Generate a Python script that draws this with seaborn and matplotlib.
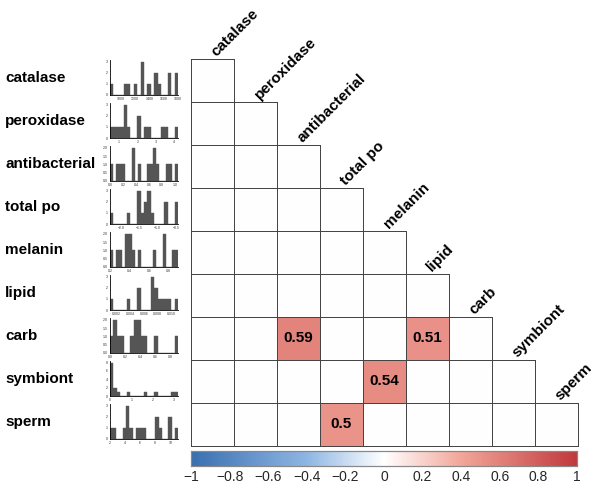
import numpy as np
import matplotlib
matplotlib.use("Agg")
import matplotlib.pyplot as plt
import seaborn as sns
from matplotlib.colors import LinearSegmentedColormap

sns.set_style("white")
plt.rcParams['font.family'] = ['Liberation Sans', 'DejaVu Sans']
plt.rcParams['text.color'] = 'black'

variables = ['catalase', 'peroxidase', 'antibacterial', 'total po', 'melanin',
             'lipid', 'carb', 'symbiont', 'sperm']

# significant correlations (row, column, r)
sig_rows = ['carb', 'carb', 'symbiont', 'sperm']
sig_cols = ['antibacterial', 'lipid', 'melanin', 'total po']
sig_r = [0.59, 0.51, 0.54, 0.5]

# histogram bin counts
hist_counts = {
    'catalase':      [1, 0, 0, 0, 1, 1, 0, 1, 0, 3, 0, 1, 0, 2, 1, 0, 0, 2, 0, 2],
    'peroxidase':    [1, 1, 1, 1, 3, 1, 0, 0, 2, 0, 1, 1, 0, 0, 0, 1, 1, 0, 0, 1],
    'antibacterial': [1, 0, 1, 1, 1, 0, 0, 2, 0, 1, 0, 0, 1, 1, 2, 1, 0, 0, 1, 1, 0, 1],
    'total po':      [1, 0, 0, 0, 0, 1, 0, 0, 3, 1, 2, 3, 1, 0, 0, 0, 2, 0, 0, 2],
    'melanin':       [1, 0, 1, 1, 0, 2, 2, 1, 0, 1, 0, 0, 0, 0, 1, 0, 0, 2, 0, 0, 1, 1],
    'lipid':         [1, 0, 0, 0, 0, 1, 0, 0, 2, 0, 0, 0, 3, 2, 1, 1, 1, 1, 0, 1],
    'carb':          [1, 2, 1, 1, 0, 0, 1, 2, 2, 1, 1, 0, 0, 1, 0, 0, 0, 0, 0, 1],
    'symbiont':      [8, 2, 1, 0, 0, 1, 0, 0, 0, 0, 1, 0, 0, 1, 0, 0, 0, 0, 1, 1],
    'sperm':         [1, 1, 0, 0, 1, 3, 1, 0, 1, 1, 1, 0, 0, 0, 2, 1, 0, 0, 2, 0, 1],
}
hist_range = {
    'catalase': (850, 1800), 'peroxidase': (0.5, 4.2), 'antibacterial': (0.0, 1.05),
    'total po': (-2.3, -0.45), 'melanin': (0.2, 0.9), 'lipid': (0.001, 0.011),
    'carb': (0.0, 0.9), 'symbiont': (0.0, 3.2), 'sperm': (2, 11),
}
cbar_ticks = [-1, -0.8, -0.6, -0.4, -0.2, 0, 0.2, 0.4, 0.6, 0.8, 1]

n = len(variables)
mat = np.zeros((n, n))
annot = np.full((n, n), '', dtype=object)
for r, c, v in zip(sig_rows, sig_cols, sig_r):
    i, j = variables.index(r), variables.index(c)
    mat[i, j] = v
    annot[i, j] = f'{v:g}'
mask = np.triu(np.ones((n, n), dtype=bool), k=1)

cmap = LinearSegmentedColormap.from_list(
    'corr', [(0, '#3a6fb0'), (0.3, '#8fb6e3'), (0.5, '#ffffff'),
             (0.7, '#f2a699'), (1, '#c0393d')])

W, H = 600, 491
fig = plt.figure(figsize=(6, 4.91), dpi=100)
# offset by half a pixel so the 1px cell borders land on pixel centres
ax = fig.add_axes([190.5 / W, 1 - 445.5 / H, 387 / W, 387 / H])
cax = fig.add_axes([191 / W, 1 - 466 / H, 386 / W, 15 / H])

sns.heatmap(mat, mask=mask, cmap=cmap, vmin=-1, vmax=1, annot=annot, fmt='',
            annot_kws={'fontsize': 11, 'fontweight': 'bold', 'color': 'black'},
            linewidths=0.72, linecolor='#444444', square=False, ax=ax,
            cbar_ax=cax, cbar_kws={'orientation': 'horizontal', 'ticks': cbar_ticks})
# hide edges of the masked (upper) cells
mesh = ax.collections[0]
edge = np.array([(0, 0, 0, 0) if m else (0.27, 0.27, 0.27, 1) for m in mask.ravel()])
mesh.set_edgecolors(edge)
mesh.set_linewidth(0.72)
mesh.set_clip_on(False)

ax.set_xticks([])
ax.set_yticks([])
ax.set_xlabel('')
ax.set_ylabel('')
for i, name in enumerate(variables):
    ax.text(i + 0.66, i + 0.02, name, rotation=45, rotation_mode='anchor',
            ha='left', va='bottom', fontsize=11, fontweight='bold', clip_on=False)

cax.set_xticklabels([f'{t:g}'.replace('-', '\u2212') for t in cbar_ticks], fontsize=10)
cax.tick_params(length=0, pad=3)
for s in cax.spines.values():
    s.set_visible(True)
    s.set_edgecolor('#888888')
    s.set_linewidth(0.8)

cell = 43
for i, name in enumerate(variables):
    top = 58 + cell * i
    fig.text(5 / W, 1 - (top + 20) / H, name, fontsize=11, fontweight='bold',
             ha='left', va='center', color='black')
    hax = fig.add_axes([110 / W, 1 - (top + 37) / H, 68 / W, 35 / H])
    counts = np.array(hist_counts[name], dtype=float)
    lo, hi = hist_range[name]
    edges = np.linspace(lo, hi, len(counts) + 1)
    centers = (edges[:-1] + edges[1:]) / 2
    sns.histplot(x=list(centers), weights=list(counts), bins=len(counts),
                 binrange=(lo, hi), ax=hax,
                 color='#555555', edgecolor='#555555', alpha=1, linewidth=0.3)
    hax.set_xlim(lo, hi)
    hax.set_ylabel('')
    hax.set_xlabel('')
    hax.tick_params(labelsize=2.5, length=1, width=0.4, pad=0.5, colors='#333333')
    for s in ['top', 'right']:
        hax.spines[s].set_visible(False)
    for s in ['left', 'bottom']:
        hax.spines[s].set_linewidth(0.6)
        hax.spines[s].set_color('black')

fig.savefig('out.png', dpi=100)
